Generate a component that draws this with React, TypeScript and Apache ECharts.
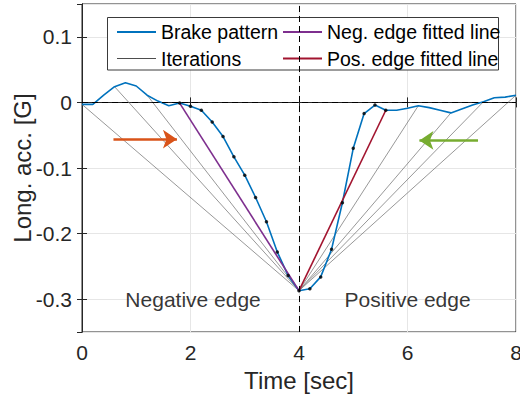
import React, { useEffect, useRef } from "react";
import * as echarts from "echarts";

// Sample times [sec]
const time = [
  0.0, 0.2, 0.4, 0.6, 0.8, 1.0, 1.2, 1.4, 1.6, 1.8,
  2.0, 2.2, 2.4, 2.6, 2.8, 3.0, 3.2, 3.4, 3.6, 3.8,
  4.0, 4.2, 4.4, 4.6, 4.8, 5.0, 5.2, 5.4, 5.6, 5.8,
  6.0, 6.2, 6.4, 6.6, 6.8, 7.0, 7.2, 7.4, 7.6, 7.8, 8.0,
];
// Longitudinal acceleration [G]
const brake = [
  -0.003, -0.003, 0.011, 0.024, 0.030, 0.025, 0.011, 0.002, -0.005, -0.001,
  -0.006, -0.012, -0.030, -0.052, -0.083, -0.111, -0.145, -0.182, -0.228, -0.264,
  -0.287, -0.284, -0.266, -0.224, -0.153, -0.070, -0.017, -0.004, -0.012, -0.012,
  -0.009, -0.005, -0.008, -0.012, -0.016, -0.010, -0.004, 0.001, 0.007, 0.008, 0.011,
];
const vertexIdx = 20;
const iterationIdx = [0, 3, 6, 31, 34, 37, 40];
const negFitIdx = 9;
const posFitIdx = 28;
const dotFirstIdx = 9;
const dotLastIdx = 28;

const orangeArrow = [[0.58, -0.056], [1.75, -0.056]];
const greenArrow = [[7.3, -0.058], [6.22, -0.058]];
const edgeLabels = [
  { name: "Negative edge", x: 0.79, y: -0.3 },
  { name: "Positive edge", x: 4.83, y: -0.3 },
];

const xMin = 0, xMax = 8, xInterval = 2;
const yMin = -0.35, yMax = 0.15;

const FONT = "'Liberation Sans', Arial, Helvetica, sans-serif";
const AXIS = "#262626";

export default function App() {
  const ref = useRef<HTMLDivElement>(null);
  useEffect(() => {
    if (!ref.current) return;
    const chart = echarts.init(ref.current, undefined, { renderer: "svg" });
    const pt = (i: number) => [time[i], brake[i]];
    const vertex = pt(vertexIdx);

    const iterSeries = iterationIdx.map((i) => ({
      type: "line",
      name: "Iterations",
      data: [pt(i), vertex],
      symbol: "none",
      silent: true,
      z: 2,
      lineStyle: { color: "#7d7d7d", width: 0.8 },
      itemStyle: { color: "#7d7d7d" },
    }));

    const dots: number[][] = [];
    for (let i = dotFirstIdx; i <= dotLastIdx; i++) dots.push(pt(i));

    const legendCommon = {
      orient: "vertical", top: 17, itemWidth: 39, itemHeight: 14, itemGap: 6.5,
      selectedMode: false,
      itemStyle: { opacity: 0 },
      textStyle: { fontSize: 19.5, color: "#000", fontFamily: FONT },
    };

    const option: any = {
      animation: false,
      textStyle: { fontFamily: FONT },
      grid: {
        left: 82, right: 4, top: 4, bottom: 68,
        outerBoundsMode: "none", containLabel: false,
        show: true, borderColor: AXIS, borderWidth: 1, backgroundColor: "#fff",
      },
      xAxis: [
        {
          type: "value", min: xMin, max: xMax, interval: xInterval,
          name: "Time [sec]", nameLocation: "middle", nameGap: 36, nameMoveOverlap: false,
          nameTextStyle: { fontSize: 24, color: AXIS, fontFamily: FONT },
          axisLine: { show: true, lineStyle: { color: AXIS, width: 1 } },
          axisTick: { show: true, inside: true, length: 5, lineStyle: { color: AXIS } },
          axisLabel: { fontSize: 21, color: AXIS, margin: 10, fontFamily: FONT },
          splitLine: { show: true, lineStyle: { color: "#e6e6e6", width: 1 } },
        },
        {
          type: "value", min: xMin, max: xMax, interval: xInterval, position: "top",
          axisLine: { show: true, lineStyle: { color: AXIS, width: 1 } },
          axisTick: { show: true, inside: true, length: 5, lineStyle: { color: AXIS } },
          axisLabel: { show: false },
          splitLine: { show: false },
        },
      ],
      yAxis: [
        {
          type: "value", min: yMin, max: yMax, splitNumber: 5,
          name: "Long. acc. [G]", nameLocation: "middle", nameGap: 48, nameMoveOverlap: false,
          nameTextStyle: { fontSize: 24, color: AXIS, fontFamily: FONT },
          axisLine: { show: true, lineStyle: { color: AXIS, width: 1 } },
          axisTick: { show: true, inside: true, length: 5, lineStyle: { color: AXIS } },
          axisLabel: {
            fontSize: 21, color: AXIS, margin: 10, fontFamily: FONT,
            showMinLabel: false, showMaxLabel: false,
            formatter: (v: number) => String(Number(v.toFixed(2))),
          },
          splitLine: { show: true, lineStyle: { color: "#e6e6e6", width: 1 } },
        },
        {
          type: "value", min: yMin, max: yMax, splitNumber: 5, position: "right",
          axisLine: { show: true, lineStyle: { color: AXIS, width: 1 } },
          axisTick: { show: true, inside: true, length: 5, lineStyle: { color: AXIS } },
          axisLabel: { show: false },
          splitLine: { show: false },
        },
      ],
      legend: [
        {
          ...legendCommon,
          left: 111,
          data: [
            "Brake pattern",
            { name: "Iterations", lineStyle: { color: "#4d4d4d", width: 1 } },
          ],
        },
        {
          ...legendCommon,
          left: 277,
          data: ["Neg. edge fitted line", "Pos. edge fitted line"],
        },
      ],
      graphic: [
        {
          type: "rect", z: 3, silent: true,
          shape: { x: 107.5, y: 17.5, width: 391, height: 52.5 },
          style: { fill: "#fff", stroke: "#3a3a3a", lineWidth: 1 },
        },
      ],
      series: [
        ...iterSeries,
        {
          type: "line", name: "Brake pattern",
          data: time.map((t, i) => [t, brake[i]]),
          symbol: "none", z: 3,
          lineStyle: { color: "#0072BD", width: 1.6 },
          itemStyle: { color: "#0072BD" },
          markLine: {
            silent: true, symbol: "none", animation: false,
            label: { show: false },
            lineStyle: { color: "#000", type: [6, 4], width: 1 },
            data: [{ xAxis: time[vertexIdx] }, { yAxis: 0 }],
          },
        },
        {
          type: "line", name: "Neg. edge fitted line",
          data: [pt(negFitIdx), vertex],
          symbol: "none", z: 4,
          lineStyle: { color: "#7E2F8E", width: 1.6 },
          itemStyle: { color: "#7E2F8E" },
        },
        {
          type: "line", name: "Pos. edge fitted line",
          data: [vertex, pt(posFitIdx)],
          symbol: "none", z: 4,
          lineStyle: { color: "#A2142F", width: 1.6 },
          itemStyle: { color: "#A2142F" },
        },
        {
          type: "scatter", name: "points", data: dots,
          symbol: "circle", symbolSize: 3.5, z: 5, silent: true,
          itemStyle: { color: "#000" },
        },
        {
          type: "lines", coordinateSystem: "cartesian2d", z: 5, silent: true,
          symbol: ["none", "arrow"], symbolSize: [10, 14],
          lineStyle: { width: 2.6, opacity: 1 },
          data: [
            { coords: orangeArrow, lineStyle: { color: "#D95319" } },
            { coords: greenArrow, lineStyle: { color: "#77AC30" } },
          ],
        },
        {
          type: "scatter", name: "labels", silent: true, z: 5,
          symbolSize: 1, itemStyle: { color: "transparent" },
          data: edgeLabels.map((d) => ({ name: d.name, value: [d.x, d.y] })),
          label: {
            show: true, position: "right", distance: 0, formatter: "{b}",
            fontSize: 21, color: "#000", fontFamily: FONT,
          },
        },
      ],
    };
    chart.setOption(option);
    return () => chart.dispose();
  }, []);
  return (
    <div
      ref={ref}
      style={{ position: "fixed", left: 0, top: 0, width: 520, height: 400, background: "#fff" }}
    />
  );
}
